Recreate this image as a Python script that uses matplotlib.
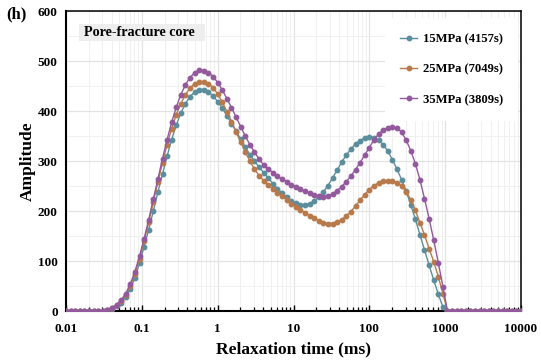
import numpy as np
import matplotlib
matplotlib.use("Agg")
import matplotlib.pyplot as plt
from matplotlib.patches import Rectangle
from matplotlib.ticker import LogLocator, FixedLocator, FixedFormatter, MultipleLocator, NullFormatter

# Relaxation time grid: 100 log-spaced T2 points from 0.01 to 10000 ms
t_start, t_stop, n_points = 0.01, 10000, 100
relaxation_time = np.logspace(np.log10(t_start), np.log10(t_stop), n_points)

amp_15 = [0, 0, 0, 0, 0, 0, 0, 0, 1, 2,
          5, 10, 17, 28, 44, 67, 96, 129, 163, 200,
          238, 274, 310, 343, 372, 396, 415, 429, 438, 443,
          443, 438, 430, 419, 406, 391, 375, 360, 344, 328,
          313, 300, 288, 277, 266, 255, 245, 236, 228, 221,
          216, 213, 213, 215, 220, 228, 238, 251, 266, 282,
          298, 312, 324, 334, 341, 346, 348, 347, 342, 333,
          320, 303, 284, 263, 240, 213, 184, 153, 122, 92,
          62, 34, 8, 0, 0, 0, 0, 0, 0, 0,
          0, 0, 0, 0, 0, 0, 0, 0, 0, 0]

amp_25 = [0, 0, 0, 0, 0, 0, 0, 0, 1, 3,
          6, 12, 20, 33, 51, 75, 105, 140, 178, 218,
          258, 297, 333, 365, 393, 415, 433, 446, 455, 459,
          459, 455, 447, 434, 418, 399, 379, 358, 338, 318,
          300, 284, 271, 261, 252, 244, 237, 230, 222, 215,
          209, 202, 197, 191, 186, 181, 177, 175, 175, 178,
          183, 190, 199, 210, 222, 233, 243, 251, 256, 260,
          261, 260, 257, 250, 239, 223, 202, 177, 152, 125,
          99, 69, 35, 0, 0, 0, 0, 0, 0, 0,
          0, 0, 0, 0, 0, 0, 0, 0, 0, 0]

amp_35 = [0, 0, 0, 0, 0, 0, 0, 0, 1, 3,
          7, 13, 22, 35, 54, 79, 110, 145, 183, 224,
          264, 305, 343, 378, 408, 433, 453, 467, 477, 482,
          481, 477, 469, 457, 442, 425, 407, 388, 369, 350,
          333, 318, 304, 292, 284, 277, 270, 264, 259, 253,
          249, 244, 240, 236, 232, 230, 229, 230, 234, 241,
          249, 259, 270, 283, 297, 312, 327, 342, 354, 362,
          367, 369, 366, 358, 342, 321, 295, 263, 225, 185,
          142, 97, 49, 0, 0, 0, 0, 0, 0, 0,
          0, 0, 0, 0, 0, 0, 0, 0, 0, 0]

series_labels = ["15MPa (4157s)", "25MPa (7049s)", "35MPa (3809s)"]
series_colors = ["#5b8e9c", "#b8794b", "#92599d"]

x_tick_values = [0.01, 0.1, 1, 10, 100, 1000, 10000]
x_tick_labels = ["0.01", "0.1", "1", "10", "100", "1000", "10000"]
y_tick_values = [0, 100, 200, 300, 400, 500, 600]

plt.rcParams['font.family'] = ['Liberation Serif', 'DejaVu Serif']
plt.rcParams['font.weight'] = 'bold'

fig = plt.figure(figsize=(5.41, 3.61), dpi=100)
ax = fig.add_axes([66/541, 50/361, 455/541, 300/361])

for amp, lab, col in zip([amp_15, amp_25, amp_35], series_labels, series_colors):
    ax.plot(relaxation_time, amp, color=col, lw=1.0, marker='o', ms=3.2,
            mec=col, mfc=col, label=lab, zorder=3)

ax.set_xscale('log')
ax.set_xlim(0.01, 10000)
ax.set_ylim(0, 600)

ax.xaxis.set_major_locator(FixedLocator(x_tick_values))
ax.xaxis.set_major_formatter(FixedFormatter(x_tick_labels))
ax.xaxis.set_minor_locator(LogLocator(base=10, subs=np.arange(2, 10), numticks=20))
ax.xaxis.set_minor_formatter(NullFormatter())
ax.yaxis.set_major_locator(FixedLocator(y_tick_values))
ax.yaxis.set_minor_locator(MultipleLocator(50))

ax.grid(which='major', color='#e3e3e3', lw=0.9, zorder=0)
ax.grid(which='minor', color='#f0f0f0', lw=0.7, zorder=0)
ax.set_axisbelow(True)

ax.tick_params(axis='x', which='major', direction='in', length=4.5, width=1.0,
               labelsize=9.5, pad=8.5, top=False)
ax.tick_params(axis='x', which='minor', direction='in', length=3, width=0.9, top=False)
ax.tick_params(axis='y', which='both', length=0, labelsize=9.5, pad=6)
for lbl in ax.get_xticklabels() + ax.get_yticklabels():
    lbl.set_fontweight('bold')

for s in ax.spines.values():
    s.set_color('black')
    s.set_linewidth(1.1)
ax.spines['left'].set_linewidth(1.5)
ax.spines['bottom'].set_linewidth(1.5)

ax.set_xlabel("Relaxation time (ms)", fontsize=12.5, fontweight='bold', labelpad=4.5)
ax.set_ylabel("Amplitude", fontsize=12.5, fontweight='bold', labelpad=1.5)

leg = ax.legend(loc='upper right', bbox_to_anchor=(1.0, 0.985), frameon=True,
                fancybox=False, edgecolor='none', facecolor='white', framealpha=1,
                prop={'weight': 'bold', 'size': 9.1}, labelspacing=1.45,
                handlelength=1.3, handletextpad=0.5, borderpad=1.2, borderaxespad=0.2)
leg.set_zorder(5)

ax.add_patch(Rectangle((0.0286, 0.900), 0.277, 0.057, transform=ax.transAxes,
                       fc='#eeeeee', ec='none', zorder=6))
ax.text(0.0396, 0.929, "Pore-fracture core", transform=ax.transAxes, fontsize=10.2,
        fontweight='bold', va='center', ha='left', zorder=7)

fig.text(6/541, 1 - 14/361, "(h)", fontsize=12, fontweight='bold', va='center', ha='left')

fig.savefig("out.png", dpi=100)
